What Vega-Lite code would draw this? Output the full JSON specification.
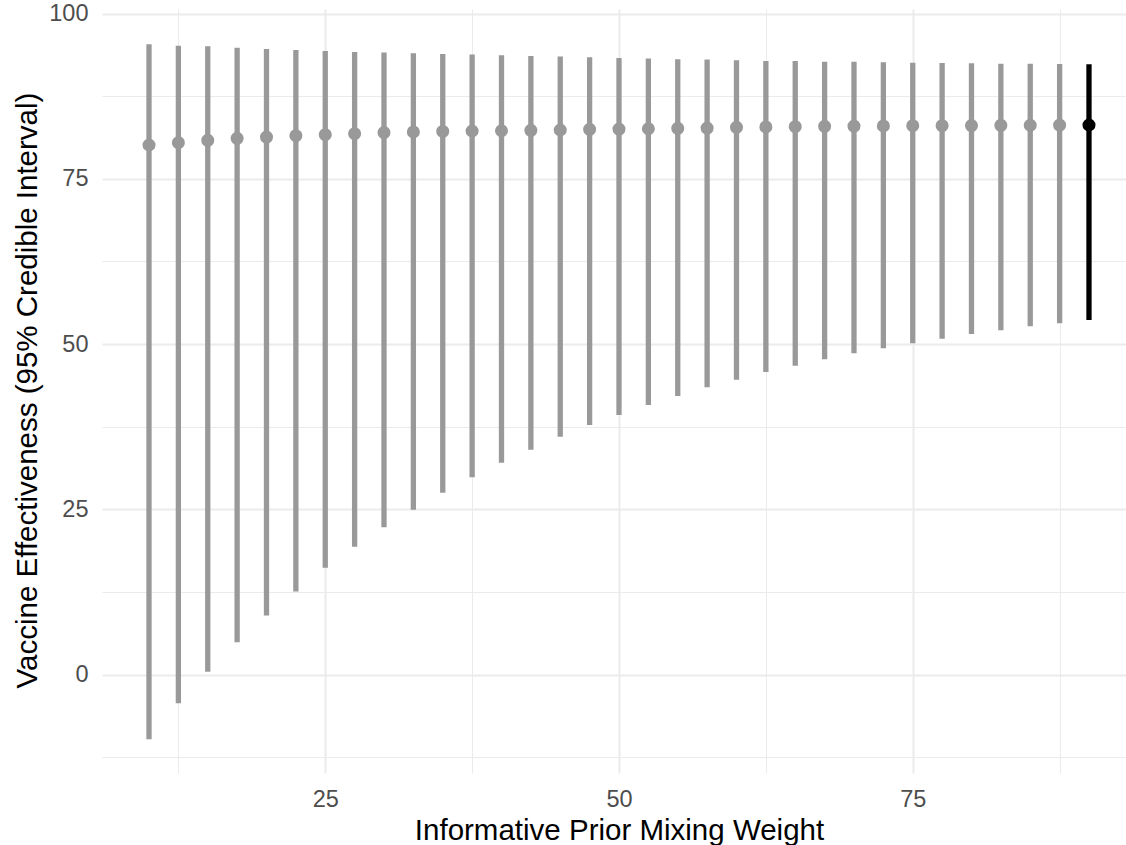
{
  "$schema": "https://vega.github.io/schema/vega-lite/v6.json",
  "width": 1024,
  "height": 764,
  "autosize": {"type": "none"},
  "padding": {"left": 102, "top": 9, "right": 0, "bottom": 72},
  "background": "white",
  "config": {
    "view": {"stroke": null},
    "axis": {
      "domain": false,
      "ticks": false,
      "tickSize": 0,
      "grid": true,
      "gridColor": "#EBEBEB",
      "labelFont": "Liberation Sans",
      "labelFontSize": 23.5,
      "labelColor": "#4D4D4D",
      "labelOverlap": false,
      "labelFlush": false,
      "titleFont": "Liberation Sans",
      "titleFontSize": 29.5,
      "titleColor": "#000000",
      "titleFontWeight": "normal"
    }
  },
  "data": {
    "values": [
      {"weight": 10, "estimate": 80.12, "lower": -9.8, "upper": 95.36, "role": "sensitivity"},
      {"weight": 12.5, "estimate": 80.47, "lower": -4.36, "upper": 95.14, "role": "sensitivity"},
      {"weight": 15, "estimate": 80.83, "lower": 0.42, "upper": 95.05, "role": "sensitivity"},
      {"weight": 17.5, "estimate": 81.13, "lower": 4.9, "upper": 94.84, "role": "sensitivity"},
      {"weight": 20, "estimate": 81.33, "lower": 8.95, "upper": 94.64, "role": "sensitivity"},
      {"weight": 22.5, "estimate": 81.53, "lower": 12.58, "upper": 94.49, "role": "sensitivity"},
      {"weight": 25, "estimate": 81.68, "lower": 16.17, "upper": 94.34, "role": "sensitivity"},
      {"weight": 27.5, "estimate": 81.83, "lower": 19.34, "upper": 94.19, "role": "sensitivity"},
      {"weight": 30, "estimate": 82.0, "lower": 22.27, "upper": 94.1, "role": "sensitivity"},
      {"weight": 32.5, "estimate": 82.1, "lower": 24.94, "upper": 94.0, "role": "sensitivity"},
      {"weight": 35, "estimate": 82.17, "lower": 27.51, "upper": 93.9, "role": "sensitivity"},
      {"weight": 37.5, "estimate": 82.24, "lower": 29.84, "upper": 93.8, "role": "sensitivity"},
      {"weight": 40, "estimate": 82.28, "lower": 32.05, "upper": 93.7, "role": "sensitivity"},
      {"weight": 42.5, "estimate": 82.34, "lower": 34.01, "upper": 93.6, "role": "sensitivity"},
      {"weight": 45, "estimate": 82.39, "lower": 35.98, "upper": 93.5, "role": "sensitivity"},
      {"weight": 47.5, "estimate": 82.49, "lower": 37.75, "upper": 93.4, "role": "sensitivity"},
      {"weight": 50, "estimate": 82.54, "lower": 39.26, "upper": 93.3, "role": "sensitivity"},
      {"weight": 52.5, "estimate": 82.58, "lower": 40.78, "upper": 93.2, "role": "sensitivity"},
      {"weight": 55, "estimate": 82.64, "lower": 42.14, "upper": 93.1, "role": "sensitivity"},
      {"weight": 57.5, "estimate": 82.69, "lower": 43.45, "upper": 93.05, "role": "sensitivity"},
      {"weight": 60, "estimate": 82.79, "lower": 44.61, "upper": 92.95, "role": "sensitivity"},
      {"weight": 62.5, "estimate": 82.85, "lower": 45.77, "upper": 92.83, "role": "sensitivity"},
      {"weight": 65, "estimate": 82.89, "lower": 46.73, "upper": 92.83, "role": "sensitivity"},
      {"weight": 67.5, "estimate": 82.95, "lower": 47.69, "upper": 92.72, "role": "sensitivity"},
      {"weight": 70, "estimate": 82.99, "lower": 48.6, "upper": 92.72, "role": "sensitivity"},
      {"weight": 72.5, "estimate": 83.0, "lower": 49.36, "upper": 92.63, "role": "sensitivity"},
      {"weight": 75, "estimate": 83.04, "lower": 50.11, "upper": 92.57, "role": "sensitivity"},
      {"weight": 77.5, "estimate": 83.05, "lower": 50.81, "upper": 92.53, "role": "sensitivity"},
      {"weight": 80, "estimate": 83.07, "lower": 51.52, "upper": 92.5, "role": "sensitivity"},
      {"weight": 82.5, "estimate": 83.1, "lower": 52.08, "upper": 92.42, "role": "sensitivity"},
      {"weight": 85, "estimate": 83.11, "lower": 52.69, "upper": 92.4, "role": "sensitivity"},
      {"weight": 87.5, "estimate": 83.13, "lower": 53.14, "upper": 92.38, "role": "sensitivity"},
      {"weight": 90, "estimate": 83.15, "lower": 53.64, "upper": 92.35, "role": "primary"}
    ]
  },
  "encoding": {
    "x": {
      "field": "weight",
      "type": "quantitative",
      "scale": {"domain": [6, 93.15], "nice": false, "zero": false},
      "axis": {
        "title": "Informative Prior Mixing Weight",
        "values": [12.5, 25, 37.5, 50, 62.5, 75, 87.5],
        "labelExpr": "datum.value % 25 === 0 ? datum.label : ''",
        "gridWidth": {"condition": {"test": "datum.value % 25 !== 0", "value": 1}, "value": 2},
        "labelBaseline": "alphabetic",
        "labelAlign": "center",
        "labelPadding": 33,
        "titleX": 517,
        "titleY": 66,
        "titleBaseline": "alphabetic",
        "titleAlign": "center"
      }
    },
    "color": {
      "field": "role",
      "type": "nominal",
      "scale": {"domain": ["sensitivity", "primary"], "range": ["#999999", "#000000"]},
      "legend": null
    }
  },
  "layer": [
    {
      "mark": {"type": "rule", "strokeWidth": 5.3, "strokeCap": "butt"},
      "encoding": {
        "y": {
          "field": "lower",
          "type": "quantitative",
          "scale": {"domain": [-14.9, 100.7], "nice": false, "zero": false},
          "axis": {
            "title": "Vaccine Effectiveness (95% Credible Interval)",
            "values": [-12.5, 0, 12.5, 25, 37.5, 50, 62.5, 75, 87.5, 100],
            "labelExpr": "datum.value % 25 === 0 ? datum.label : ''",
            "gridWidth": {"condition": {"test": "datum.value % 25 !== 0", "value": 1}, "value": 2},
            "labelPadding": 14,
            "labelAlign": "right",
            "labelBaseline": "middle",
            "titleAngle": 270,
            "titleX": -66,
            "titleY": 381,
            "titleBaseline": "alphabetic",
            "titleAlign": "center"
          }
        },
        "y2": {"field": "upper"}
      }
    },
    {
      "mark": {"type": "point", "filled": true, "size": 170, "opacity": 1},
      "encoding": {
        "y": {
          "field": "estimate",
          "type": "quantitative",
          "title": "Vaccine Effectiveness (95% Credible Interval)"
        }
      }
    }
  ]
}
